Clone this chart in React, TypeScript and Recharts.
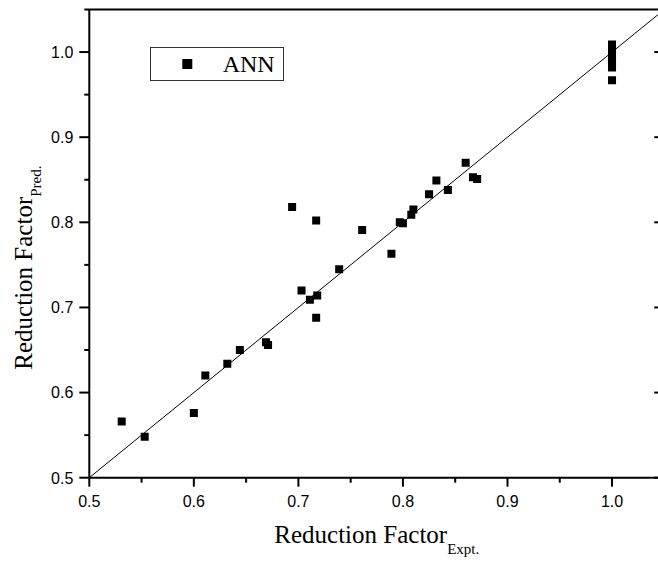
import React from 'react';
import {
  ScatterChart,
  Scatter,
  XAxis,
  YAxis,
  ZAxis,
  ReferenceLine,
  Legend
} from 'recharts';

const exptValues = [
  0.531, 0.553, 0.600, 0.611, 0.632, 0.644, 0.669, 0.671,
  0.703, 0.711, 0.718, 0.717, 0.694, 0.717, 0.739, 0.761,
  0.789, 0.797, 0.800, 0.808, 0.810, 0.825, 0.832, 0.843,
  0.860, 0.867, 0.871,
  1.0, 1.0, 1.0, 1.0, 1.0, 1.0, 1.0, 1.0
];
const predValues = [
  0.566, 0.548, 0.576, 0.620, 0.634, 0.650, 0.659, 0.656,
  0.720, 0.709, 0.714, 0.688, 0.818, 0.802, 0.745, 0.791,
  0.763, 0.800, 0.799, 0.809, 0.815, 0.833, 0.849, 0.838,
  0.870, 0.853, 0.851,
  1.009, 1.004, 1.000, 0.996, 0.991, 0.986, 0.982, 0.967
];

const axisDomain = [0.5, 1.05];
const majorTicks = [0.5, 0.6, 0.7, 0.8, 0.9, 1.0];
const minorTicks = [0.55, 0.65, 0.75, 0.85, 0.95, 1.05];
const allTicks = [...majorTicks, ...minorTicks].sort((a, b) => a - b);
const diagonal = [
  { x: 0.5, y: 0.5 },
  { x: 1.05, y: 1.05 }
];
const seriesName = 'ANN';

const data = exptValues.map((x, i) => ({ x, y: predValues[i] }));

const isMajor = (v: number) => majorTicks.some((m) => Math.abs(m - v) < 1e-6);

const SANS = '"Liberation Sans", Arial, sans-serif';
const SERIF = '"Liberation Serif", "Times New Roman", serif';

const BottomTick = (props: any) => {
  const { x, y, payload } = props;
  const major = isMajor(payload.value);
  return (
    <g>
      <line x1={x} x2={x} y1={y} y2={y + (major ? 9 : 5)} stroke="#000" strokeWidth={2} />
      {major && (
        <text x={x} y={y + 28.8} textAnchor="middle" fontFamily={SANS} fontSize={16} fill="#000">
          {payload.value.toFixed(1)}
        </text>
      )}
    </g>
  );
};

const TopTick = (props: any) => {
  const { x, y, payload } = props;
  const major = isMajor(payload.value);
  return <line x1={x} x2={x} y1={y} y2={y + (major ? 10 : 5)} stroke="#000" strokeWidth={2} />;
};

const LeftTick = (props: any) => {
  const { x, y, payload } = props;
  const major = isMajor(payload.value);
  return (
    <g>
      <line x1={x - (major ? 10 : 5)} x2={x} y1={y} y2={y} stroke="#000" strokeWidth={2} />
      {major && (
        <text x={x - 16} y={y + 5.8} textAnchor="end" fontFamily={SANS} fontSize={16} fill="#000">
          {payload.value.toFixed(1)}
        </text>
      )}
    </g>
  );
};

const RightTick = (props: any) => {
  const { x, y, payload } = props;
  const major = isMajor(payload.value);
  return <line x1={x - (major ? 10 : 5)} x2={x} y1={y} y2={y} stroke="#000" strokeWidth={2} />;
};

const XTitle = (props: any) => {
  const { viewBox } = props;
  const cx = viewBox.x + viewBox.width / 2;
  return (
    <text x={cx} y={viewBox.y + 65.6} textAnchor="middle" fontFamily={SERIF} fontSize={25} fill="#000">
      Reduction Factor
      <tspan fontSize={15} dy={11}>Expt.</tspan>
    </text>
  );
};

const YTitle = (props: any) => {
  const { viewBox } = props;
  const cx = 31.7;
  const cy = viewBox.y + viewBox.height / 2 + 24;
  return (
    <text
      x={cx}
      y={cy}
      transform={`rotate(-90, ${cx}, ${cy})`}
      textAnchor="middle"
      fontFamily={SERIF}
      fontSize={25}
      fill="#000"
    >
      Reduction Factor
      <tspan fontSize={15} dy={9}>Pred.</tspan>
    </text>
  );
};

const LegendBox = () => (
  <svg width={134} height={34} style={{ display: 'block' }}>
    <rect x={0.5} y={0.5} width={133} height={33} fill="#fff" stroke="#333" strokeWidth={1} />
    <rect x={32.3} y={12} width={10} height={10} fill="#000" />
    <text x={72.7} y={25} fontFamily={SERIF} fontSize={24} fill="#000">
      {seriesName}
    </text>
  </svg>
);

const App = () => {
  const axisLine = { stroke: '#000', strokeWidth: 2 };
  return (
    <div
      style={{
        position: 'absolute',
        left: 0,
        top: 0,
        width: 658,
        height: 563,
        overflow: 'hidden',
        background: '#fff'
      }}
    >
      <ScatterChart width={680} height={563} margin={{ top: 8.5, right: 14.7, left: 0, bottom: 0 }}>
        <XAxis
          xAxisId={0}
          dataKey="x"
          type="number"
          domain={axisDomain}
          ticks={allTicks}
          allowDataOverflow
          height={85.3}
          tickSize={0}
          tickMargin={0}
          tickLine={false}
          axisLine={axisLine}
          tick={<BottomTick />}
          interval={0}
          label={{ content: <XTitle /> }}
        />
        <XAxis
          xAxisId="top"
          orientation="top"
          type="number"
          domain={axisDomain}
          ticks={allTicks}
          allowDataOverflow
          height={1}
          tickSize={0}
          tickMargin={0}
          tickLine={false}
          axisLine={axisLine}
          tick={<TopTick />}
          interval={0}
        />
        <YAxis
          yAxisId={0}
          dataKey="y"
          type="number"
          domain={axisDomain}
          ticks={allTicks}
          allowDataOverflow
          width={89.3}
          tickSize={0}
          tickMargin={0}
          tickLine={false}
          axisLine={axisLine}
          tick={<LeftTick />}
          interval={0}
          label={{ content: <YTitle /> }}
        />
        <YAxis
          yAxisId="right"
          orientation="right"
          type="number"
          domain={axisDomain}
          ticks={allTicks}
          allowDataOverflow
          width={1}
          tickSize={0}
          tickMargin={0}
          tickLine={false}
          axisLine={axisLine}
          tick={<RightTick />}
          interval={0}
        />
        <ZAxis range={[118, 118]} />
        <ReferenceLine
          xAxisId={0}
          yAxisId={0}
          segment={diagonal}
          stroke="#000"
          strokeWidth={1}
          ifOverflow="visible"
        />
        <Scatter
          xAxisId={0}
          yAxisId={0}
          name={seriesName}
          data={data}
          fill="#000"
          shape="square"
          isAnimationActive={false}
        />
        <Legend
          layout="horizontal"
          verticalAlign="middle"
          align="center"
          wrapperStyle={{ left: 150, top: 47, width: 134, height: 34 }}
          content={<LegendBox />}
        />
      </ScatterChart>
    </div>
  );
};

export default App;
